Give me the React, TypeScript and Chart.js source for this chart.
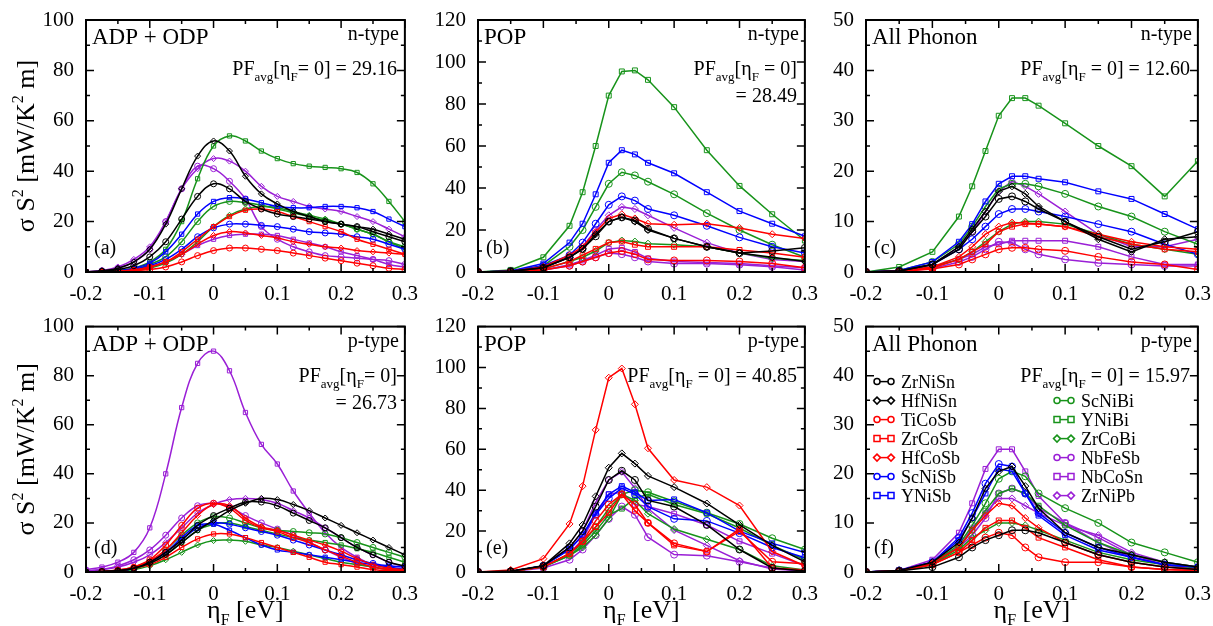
import React, { useEffect, useRef } from "react";
import { Chart, registerables } from "chart.js";

Chart.register(...registerables);

// x grids: dense for ADP+ODP panels, coarse for POP / All Phonon panels
const xDense = [-0.2, -0.175, -0.15, -0.125, -0.1, -0.075, -0.05, -0.025, 0, 0.025, 0.05, 0.075, 0.1, 0.125, 0.15, 0.175, 0.2, 0.225, 0.25, 0.275, 0.3];
const xCoarse = [-0.2, -0.15, -0.1, -0.06, -0.04, -0.02, 0, 0.02, 0.04, 0.06, 0.1, 0.15, 0.2, 0.25, 0.3];

const materials = ["ZrNiSn", "HfNiSn", "TiCoSb", "ZrCoSb", "HfCoSb", "ScNiSb", "YNiSb", "ScNiBi", "YNiBi", "ZrCoBi", "NbFeSb", "NbCoSn", "ZrNiPb"];
const BLACK = "#000000", RED = "#ff0000", BLUE = "#0000ff", GREEN = "#17931a", PURPLE = "#9a1fd6";
const colors = [BLACK, BLACK, RED, RED, RED, BLUE, BLUE, GREEN, GREEN, GREEN, PURPLE, PURPLE, PURPLE];
const markers = ["circle", "rectRot", "circle", "rect", "rectRot", "circle", "rect", "circle", "rect", "rectRot", "circle", "rect", "rectRot"];

// (a) n-type ADP + ODP
const adpN = [
  [0, 0.3, 1, 2.5, 6, 12, 21, 30, 35, 33, 28, 25, 23, 22, 21, 20, 19, 18, 16, 14, 12],
  [0, 0.5, 1.5, 4, 9, 19, 33, 46, 52, 48, 38, 31, 27, 24, 22, 20, 19, 18, 17, 15, 13],
  [0, 0, 0.2, 0.5, 1, 2, 4, 6.5, 8.5, 9.5, 9.5, 9, 8.5, 7.5, 6.5, 5.5, 4.5, 3.5, 2.5, 1.5, 1],
  [0, 0, 0.3, 0.8, 2, 4, 8, 13, 18, 22, 24.5, 25, 24, 22, 20, 18, 16, 13, 11, 9, 7],
  [0, 0, 0.3, 0.8, 2, 4, 7, 11, 14.5, 16, 15.5, 14.5, 13.5, 12, 11, 10, 9.5, 8.5, 8, 7.5, 7],
  [0, 0, 0.3, 1, 2.5, 5, 9, 14, 17.5, 19, 19, 18.5, 18, 17, 16, 15.5, 15, 14, 13, 11, 9],
  [0, 0.2, 0.5, 1.5, 3.5, 8, 15, 23, 28, 29.5, 29, 27.5, 26, 25.5, 25.5, 26, 26, 25.5, 24, 21, 18],
  [0, 0, 0.3, 1, 3, 6, 12, 20, 26, 28, 27.5, 26.5, 25, 23.5, 22, 20.5, 19, 17, 15, 12, 10],
  [0, 0.2, 0.6, 1.5, 4, 9, 20, 37, 50, 54, 52, 48, 45, 43, 42, 41.5, 41, 39.5, 35, 28, 20],
  [0, 0, 0.2, 0.6, 1.5, 3.5, 7, 12, 18, 22.5, 25, 26, 25.5, 24, 22.5, 21, 19, 17, 15, 12, 9],
  [0, 0.5, 1.5, 4, 9, 20, 33, 42, 41, 36, 29, 18, 13, 10, 8, 6.5, 6, 5.5, 5, 4.5, 3],
  [0, 0, 0.3, 0.8, 2, 4, 7, 10.5, 13, 14.5, 15, 15, 14.5, 13, 11.5, 10, 8, 6.5, 5, 3, 2],
  [0, 0.6, 2, 5, 10, 20, 33, 41, 45, 44, 40, 34, 30, 28, 26, 25, 24, 22, 20, 17, 14],
];

// (b) n-type POP
const popN = [
  [0, 0.3, 2, 7, 11, 17, 24, 26, 24.5, 20.5, 16, 12, 9, 10, 11.5],
  [0, 0.3, 2, 7, 11, 18, 24, 26, 24, 20, 16, 12, 9, 7, 5],
  [0, 0.2, 1, 3, 5, 7, 9, 10, 8.5, 6, 5.5, 5.5, 5, 4, 2],
  [0, 0.2, 1.5, 5, 8, 11, 14, 14.5, 13, 12, 12, 12, 10.5, 9, 7],
  [0, 0.3, 2.5, 8, 12, 19, 25.5, 27.5, 25.5, 23, 22.5, 23, 21, 18, 16],
  [0, 0.3, 3, 8, 14, 23, 32, 36, 34, 30, 27, 22, 16.5, 12, 9],
  [0, 0.5, 4, 14, 23, 37, 52, 58, 56, 52, 47, 38, 29, 23, 17],
  [0, 0.5, 3, 12, 20, 31, 42, 47.5, 46, 43, 37, 28, 20, 13, 7],
  [0, 1, 7, 22, 38, 60, 84, 95.5, 96, 91.5, 78.5, 58, 41, 27.5, 15],
  [0, 0.2, 1.5, 5, 7, 10, 14, 15, 14.5, 13.5, 13, 12, 9, 6.5, 5.5],
  [0, 0.2, 1, 3, 5, 7, 9, 8.5, 7, 5, 4, 4, 3.5, 2.5, 1],
  [0, 0.2, 1, 3.5, 5.5, 8, 11, 11.5, 9.5, 6.5, 5, 4.5, 4, 3, 2],
  [0, 0.3, 2, 7, 12, 20, 27, 31, 30, 27, 21, 14, 9, 6, 5],
];

// (c) n-type All Phonon
const allN = [
  [0, 0.2, 1.5, 4.5, 8, 11, 14.5, 15, 14, 12.5, 10, 7, 4.5, 6, 8],
  [0, 0.2, 1.5, 5, 8.5, 12, 16, 17, 15.5, 13, 10, 6.5, 4, 6.5, 7],
  [0, 0.1, 0.6, 1.5, 2.5, 3.5, 4.5, 4.8, 4.8, 4.5, 4.2, 3, 2, 1.5, 0.5],
  [0, 0.1, 0.8, 2.5, 4, 5.5, 8, 9, 9.5, 9.5, 9, 7, 5.5, 4.5, 4],
  [0, 0.2, 1, 3, 5, 7.5, 9, 9.8, 9.7, 9.5, 9, 7.5, 6, 5, 4.5],
  [0, 0.2, 1.5, 4.5, 6.5, 9, 11.5, 12.5, 12.5, 12, 11, 9.5, 8, 5.5, 3.5],
  [0, 0.3, 2, 6, 9.5, 14, 17.5, 19, 19, 18.5, 17.8, 16, 14.5, 11.5, 8.5],
  [0, 0.3, 2, 5.5, 9, 13, 16.5, 17.5, 17.5, 17, 15.5, 13, 11, 8, 5.5],
  [0, 1, 4, 11, 17, 24, 31, 34.5, 34.5, 33, 29.5, 25, 21, 15, 22],
  [0, 0.2, 1, 2.5, 4, 6, 8, 9.5, 10, 10, 9.5, 7.5, 5.5, 4.5, 3.5],
  [0, 0.1, 0.7, 2, 3, 4.5, 6, 5.8, 4.5, 3.5, 2.5, 1.8, 1.5, 1.2, 1.2],
  [0, 0.2, 1, 2.5, 3.5, 5, 5.5, 6.2, 6.2, 6.2, 6.2, 5, 3, 1.5, 1.5],
  [0, 0.2, 1.5, 5, 8, 12, 16, 18, 17, 15.5, 12, 7.5, 5, 5, 6.5],
];

// (d) p-type ADP + ODP
const adpP = [
  [0, 0.2, 0.5, 1.5, 4, 8, 13, 19, 23, 26, 28.5, 28.5, 27, 24, 21, 18, 14, 10, 7, 4, 2.5],
  [0, 0.2, 0.5, 1.5, 3.5, 7, 12, 17, 21, 25, 28, 30, 29.5, 27.5, 25, 22, 19, 16, 13, 10, 7],
  [0, 0.2, 0.8, 2, 5, 11, 19, 26, 28, 26, 21, 18, 16.5, 14, 12, 9, 6.5, 4, 2, 1, 0.5],
  [0, 0.1, 0.5, 1.5, 3, 6, 10, 13.5, 15.5, 15.5, 14, 12, 10, 8, 6, 4, 3, 2, 1, 0.5, 0.3],
  [0, 0.2, 0.7, 2, 4.5, 9, 16, 23, 27.5, 27, 22, 18.5, 17, 15, 13, 11, 8.5, 5.5, 3, 1.5, 1],
  [0, 0.1, 0.5, 1.5, 4, 8, 13, 18, 20, 19.5, 18, 16.5, 15, 13, 11, 9, 7, 5, 3.5, 2.5, 2],
  [0, 0.1, 0.5, 1.5, 4, 8, 14, 19, 19.5, 17, 14, 11, 9, 8, 7, 6, 5, 4, 3, 2, 1],
  [0, 0.1, 0.5, 1.5, 4, 9, 15, 20, 22.5, 22, 20, 18, 17, 16.5, 16, 15.5, 14, 12, 10, 8, 6],
  [0, 0.1, 0.5, 1.5, 3.5, 7, 12, 17, 19.5, 20, 18.5, 17, 15.5, 14, 13, 12, 11, 9.5, 8, 6, 4],
  [0, 0.1, 0.3, 1, 2.5, 5, 8, 11, 12.8, 13, 12.5, 11, 10, 8.5, 7, 5.5, 4, 3, 2, 1, 0.5],
  [0.5, 1, 2.5, 5, 9, 15, 22, 27, 28, 26.5, 23, 20, 17.5, 15, 12, 9, 6, 3.5, 2, 1, 0.5],
  [1, 2, 4, 8, 18, 40, 67, 85, 90, 82, 65, 52, 44, 33, 24, 16, 10, 6, 3, 1.5, 1],
  [0.5, 1, 2, 4, 7, 12, 18, 24, 27.5, 29.5, 30, 29.5, 28, 25, 22, 18, 14, 10, 7, 4, 2],
];

// (e) p-type POP
const popP = [
  [0, 0.3, 3, 12, 20, 32, 45, 49.5, 45, 35, 32, 23, 11, 2, 0.5],
  [0, 0.5, 3, 14, 23, 37, 51, 58, 53, 47, 41.5, 33.5, 23, 13, 5],
  [0, 0.3, 2.5, 9, 15, 25, 33, 38, 33, 24, 14, 10, 20, 5, 4],
  [0, 0.3, 2.5, 9, 15, 22, 29, 38, 30, 24, 13, 10, 21, 2, 1],
  [0, 1, 6.5, 23.5, 42, 69.5, 95, 99.5, 82, 60.5, 45, 41.5, 32.5, 10, 3],
  [0, 0.3, 3, 11, 18, 28, 36, 41, 38, 32, 26, 25, 19, 12, 7],
  [0, 0.3, 3, 11, 18, 29, 38, 42, 39, 35, 35.5, 29, 20, 14, 9.5],
  [0, 0.3, 2.5, 9, 14, 22, 31, 38, 40, 39, 34.5, 29, 23.5, 16.5, 11],
  [0, 0.3, 2.5, 8, 13, 20, 28, 31, 36, 38, 33, 28.5, 21.5, 13, 6],
  [0, 0.3, 2.5, 8, 12, 18, 26, 38, 35, 28.5, 21, 16, 11, 3, 1],
  [0, 0.2, 2, 6, 11, 18, 26, 32, 28, 17, 8.5, 8, 5, 2, 0.5],
  [0, 0.3, 2.5, 9, 16, 28, 38, 39, 33, 32, 28.5, 23, 15, 9, 3],
  [0, 0.3, 3, 12, 20, 34, 45, 49, 41, 31, 20.5, 13, 5.5, 1.5, 0.5],
];

// (f) p-type All Phonon
const allP = [
  [0, 0.2, 1, 3, 5, 6.5, 7.5, 8.5, 8.5, 8, 6, 3.5, 2, 1, 0.5],
  [0, 0.3, 2, 6, 11, 17, 20.5, 21.5, 17.5, 13, 8, 5, 3.5, 2, 1],
  [0, 0.2, 1.5, 4, 5.5, 7, 8, 7.5, 5, 3, 2, 2, 1, 0.5, 0.3],
  [0, 0.2, 1.5, 4, 6.5, 9, 10.5, 10.5, 9, 7, 5, 2.5, 1, 0.5, 0.3],
  [0, 0.2, 1.8, 5, 8.5, 11.5, 14, 13.5, 11, 9, 6, 3.5, 2, 1, 0.5],
  [0, 0.3, 2, 7, 12, 18, 22, 21.5, 16, 12, 8, 5, 3, 1.5, 1],
  [0, 0.3, 2, 6.5, 11, 16, 21, 20.5, 16, 11.5, 7.5, 4.5, 3, 1.5, 1],
  [0, 0.3, 1.8, 5.5, 9.5, 14, 19, 20.5, 19.5, 16, 13, 10, 6, 4, 2],
  [0, 0.2, 1.5, 5, 8.5, 12.5, 16, 17, 16, 13.5, 9.5, 6, 3.5, 2, 1],
  [0, 0.2, 1.5, 4.5, 7, 8.5, 10, 10, 9.5, 8.5, 6.5, 4, 2.5, 1.5, 0.8],
  [0, 0.3, 2, 5, 7.5, 11, 16, 17, 16, 13, 10, 7, 3.5, 1.5, 0.5],
  [0, 0.3, 2.5, 8, 14, 21, 25, 25, 20.5, 15.5, 10, 6, 3, 1.5, 0.5],
  [0, 0.2, 1.8, 5, 9, 12, 15, 15, 13.5, 12, 9.5, 7.5, 4, 2, 1],
];

const SERIF = "'Liberation Serif', 'DejaVu Serif', serif";

type Seg = { t: string; size: number; dy?: number };

function drawRich(ctx: CanvasRenderingContext2D, x: number, y: number, segs: Seg[], align: "left" | "right" | "center") {
  let w = 0;
  for (const s of segs) {
    ctx.font = `${s.size}px ${SERIF}`;
    w += ctx.measureText(s.t).width;
  }
  let cx = align === "left" ? x : align === "right" ? x - w : x - w / 2;
  ctx.textAlign = "left";
  ctx.textBaseline = "alphabetic";
  for (const s of segs) {
    ctx.font = `${s.size}px ${SERIF}`;
    ctx.fillText(s.t, cx, y + (s.dy || 0));
    cx += ctx.measureText(s.t).width;
  }
}

const pf = (rest: string): Seg[] => [
  { t: "PF", size: 20 },
  { t: "avg", size: 13, dy: 6 },
  { t: "[η", size: 20 },
  { t: "F", size: 13, dy: 6 },
  { t: rest, size: 20 },
];

interface PanelProps {
  left: number;
  top: number;
  width: number;
  height: number;
  axisW: number;
  axisH: number;
  padTop: number;
  padRight: number;
  xs: number[];
  series: number[][];
  yMax: number;
  yStep: number;
  title: string;
  kind: string;
  pfLines: string[];
  letter: string;
  yTitle: boolean;
  xTitle: boolean;
  legend: boolean;
  dense: boolean;
}

const Panel: React.FC<PanelProps> = (p) => {
  const ref = useRef<HTMLCanvasElement>(null);

  useEffect(() => {
    const ctx = ref.current?.getContext("2d");
    if (!ctx) return;

    const frame = {
      id: "frame",
      afterDraw(chart: any) {
        const c: CanvasRenderingContext2D = chart.ctx;
        const a = chart.chartArea;
        const xs = chart.scales.x;
        const ys = chart.scales.y;
        c.save();
        c.strokeStyle = "#000";
        c.fillStyle = "#000";
        c.lineWidth = 2;
        c.strokeRect(a.left, a.top, a.right - a.left, a.bottom - a.top);
        c.lineWidth = 1.5;
        // inward ticks
        for (let i = 0; i <= 10; i++) {
          const v = -0.2 + i * 0.05;
          const px = xs.getPixelForValue(v);
          const len = i % 2 === 0 ? 8 : 4;
          c.beginPath();
          c.moveTo(px, a.bottom); c.lineTo(px, a.bottom - len);
          c.moveTo(px, a.top); c.lineTo(px, a.top + len);
          c.stroke();
        }
        const half = p.yStep / 2;
        for (let i = 0; i * half <= p.yMax + 1e-9; i++) {
          const py = ys.getPixelForValue(i * half);
          const len = i % 2 === 0 ? 8 : 4;
          c.beginPath();
          c.moveTo(a.left, py); c.lineTo(a.left + len, py);
          c.moveTo(a.right, py); c.lineTo(a.right - len, py);
          c.stroke();
        }
        // texts
        drawRich(c, a.left + 6, a.top + 24, [{ t: p.title, size: 23 }], "left");
        drawRich(c, a.right - 6, a.top + 20, [{ t: p.kind, size: 20 }], "right");
        p.pfLines.forEach((ln, i) => {
          const segs = i === 0 ? pf(ln) : [{ t: ln, size: 20 }];
          drawRich(c, a.right - 8, a.top + 55 + i * 27, segs, "right");
        });
        drawRich(c, a.left + 8, a.bottom - 18, [{ t: p.letter, size: 20 }], "left");
        if (p.xTitle) {
          drawRich(c, (a.left + a.right) / 2, a.bottom + 46, [
            { t: "η", size: 26 },
            { t: "F", size: 16, dy: 7 },
            { t: " [eV]", size: 26 },
          ], "center");
        }
        if (p.yTitle) {
          c.save();
          c.translate(34, (a.top + a.bottom) / 2);
          c.rotate(-Math.PI / 2);
          drawRich(c, 0, 0, [
            { t: "σ S", size: 26 },
            { t: "2", size: 16, dy: -11 },
            { t: " [mW/K", size: 26 },
            { t: "2", size: 16, dy: -11 },
            { t: " m]", size: 26 },
          ], "center");
          c.restore();
        }
        if (p.legend) {
          const drawEntry = (i: number, lx: number, ly: number) => {
            c.strokeStyle = colors[i];
            c.lineWidth = 1.5;
            c.beginPath();
            c.moveTo(lx, ly); c.lineTo(lx + 20, ly);
            c.stroke();
            for (const mx of [lx + 3, lx + 17]) {
              c.beginPath();
              if (markers[i] === "circle") c.arc(mx, ly, 3, 0, Math.PI * 2);
              else if (markers[i] === "rect") c.rect(mx - 3, ly - 3, 6, 6);
              else { c.moveTo(mx, ly - 3.5); c.lineTo(mx + 3.5, ly); c.lineTo(mx, ly + 3.5); c.lineTo(mx - 3.5, ly); c.closePath(); }
              c.fillStyle = "#fff";
              c.fill();
              c.stroke();
            }
            c.fillStyle = "#000";
            drawRich(c, lx + 27, ly + 6, [{ t: materials[i], size: 18 }], "left");
          };
          for (let i = 0; i < 7; i++) drawEntry(i, a.left + 8, a.top + 55 + i * 19);
          for (let i = 7; i < 13; i++) drawEntry(i, a.left + 188, a.top + 55 + (i - 6) * 19);
        }
        c.restore();
      },
    };

    const chart = new Chart(ctx, {
      type: "line",
      data: {
        datasets: p.series.map((ys, i) => ({
          label: materials[i],
          data: ys.map((y, j) => ({ x: p.xs[j], y })),
          borderColor: colors[i],
          backgroundColor: "rgba(255,255,255,0)",
          pointBackgroundColor: "rgba(255,255,255,0)",
          pointBorderColor: colors[i],
          pointStyle: markers[i] as any,
          pointRadius: p.dense ? 3 : 3.5,
          pointBorderWidth: 1,
          borderWidth: 1.5,
          tension: p.dense ? 0.4 : 0,
          fill: false,
        })),
      },
      options: {
        animation: false,
        responsive: false,
        layout: { padding: { top: p.padTop, right: p.padRight } },
        plugins: { legend: { display: false }, tooltip: { enabled: false } },
        scales: {
          x: {
            type: "linear",
            min: -0.2,
            max: 0.3,
            grid: { display: false },
            border: { display: false },
            ticks: {
              stepSize: 0.1,
              color: "#000",
              font: { family: SERIF, size: 21 },
              padding: 2,
              callback: (v: any) => (Math.abs(v) < 1e-9 ? "0" : Number(v).toFixed(1)),
            },
            afterFit: (s: any) => { s.height = p.axisH; },
          },
          y: {
            min: 0,
            max: p.yMax,
            grid: { display: false },
            border: { display: false },
            ticks: {
              stepSize: p.yStep,
              color: "#000",
              font: { family: SERIF, size: 21 },
              padding: 4,
            },
            afterFit: (s: any) => { s.width = p.axisW; },
          },
        },
      },
      plugins: [frame],
    });

    return () => {
      chart.destroy();
    };
  }, [p]);

  return (
    <canvas
      ref={ref}
      width={p.width}
      height={p.height}
      style={{ position: "absolute", left: p.left, top: p.top, width: p.width, height: p.height }}
    />
  );
};

const base = { legend: false };

const panels: PanelProps[] = [
  { ...base, left: 0, top: 0, width: 420, height: 300, axisW: 86, axisH: 28, padTop: 20, padRight: 7, xs: xDense, series: adpN, yMax: 100, yStep: 20, title: "ADP + ODP", kind: "n-type", pfLines: ["= 0] = 29.16"], letter: "(a)", yTitle: true, xTitle: false, dense: true },
  { ...base, left: 420, top: 0, width: 400, height: 300, axisW: 58, axisH: 28, padTop: 20, padRight: 10, xs: xCoarse, series: popN, yMax: 120, yStep: 20, title: "POP", kind: "n-type", pfLines: [" = 0]", "= 28.49"], letter: "(b)", yTitle: false, xTitle: false, dense: false },
  { ...base, left: 820, top: 0, width: 393, height: 300, axisW: 46, axisH: 28, padTop: 20, padRight: 13, xs: xCoarse, series: allN, yMax: 50, yStep: 10, title: "All Phonon", kind: "n-type", pfLines: [" = 0] = 12.60"], letter: "(c)", yTitle: false, xTitle: false, dense: false },
  { ...base, left: 0, top: 310, width: 420, height: 316, axisW: 86, axisH: 54, padTop: 10, padRight: 7, xs: xDense, series: adpP, yMax: 100, yStep: 20, title: "ADP + ODP", kind: "p-type", pfLines: ["= 0]", "= 26.73"], letter: "(d)", yTitle: true, xTitle: true, dense: true },
  { ...base, left: 420, top: 310, width: 400, height: 316, axisW: 58, axisH: 54, padTop: 10, padRight: 10, xs: xCoarse, series: popP, yMax: 120, yStep: 20, title: "POP", kind: "p-type", pfLines: [" = 0] = 40.85"], letter: "(e)", yTitle: false, xTitle: true, dense: false },
  { left: 820, top: 310, width: 393, height: 316, axisW: 46, axisH: 54, padTop: 10, padRight: 13, xs: xCoarse, series: allP, yMax: 50, yStep: 10, title: "All Phonon", kind: "p-type", pfLines: [" = 0] = 15.97"], letter: "(f)", yTitle: false, xTitle: true, dense: false, legend: true },
];

export default function App() {
  return (
    <div style={{ position: "absolute", left: 0, top: 0, width: 1213, height: 626, background: "#fff" }}>
      {panels.map((p, i) => (
        <Panel key={i} {...p} />
      ))}
    </div>
  );
}
